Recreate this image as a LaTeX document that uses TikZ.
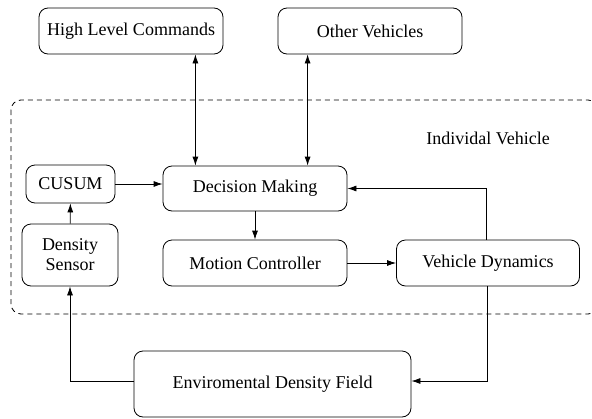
\documentclass[tikz,border=0pt]{standalone}
\usepackage{fontspec}
\newfontfamily\labelfont{Liberation Serif}
\usepackage{tikz}
\usetikzlibrary{arrows.meta}

\begin{document}
\begin{tikzpicture}[x=1pt,y=-1pt,line width=0.8pt,>={Latex[length=9pt,width=6pt]},font=\labelfont\fontsize{18}{20}\selectfont]
            \tikzstyle{block}=[draw=black,rounded corners=9pt,minimum height=46pt,inner sep=0pt,align=center]
            \useasboundingbox (0,0) rectangle (592,418);

                % the vehicle itself
                \draw[dash pattern=on 5pt off 4pt,rounded corners=10pt] (11,100) rectangle (598,314);
                \node (iv) at (488,138) {Individal Vehicle};

                \node[block,minimum width=184pt] (hlc) at (131,31) {High Level Commands};
                \node[block,minimum width=184pt] (ov) at (370,31) {Other Vehicles};

                \node[block,minimum width=89pt,minimum height=38pt] (cusum) at (70.5,184) {CUSUM};
                \node[block,minimum width=96pt,minimum height=62pt] (ds) at (70,255) {Density\\Sensor};
                \node[block,minimum width=184pt,minimum height=45pt] (dm) at (255,188.5) {Decision Making};
                \node[block,minimum width=184pt] (mc) at (255,263) {Motion Controller};
                \node[block,minimum width=183pt] (vd) at (488,263) {Vehicle Dynamics};

                \node[block,minimum width=277pt,minimum height=66pt] (env) at (272.5,384) {Enviromental Density Field};

                \draw[<->] ([xshift=-28pt]hlc.south east) -- ([xshift=-28pt]hlc.south east |- dm.north);
                \draw[<->] ([xshift=30pt]ov.south west) -- ([xshift=30pt]ov.south west |- dm.north);

                \foreach \from/\to in {ds/cusum, dm/mc, mc/vd}
                    \draw[->] (\from) -- (\to);
                \draw[->] (cusum.east) -- (cusum.east -| dm.west);
                \draw[->] ([xshift=-2pt]vd.north) |- (dm.east);
                \draw[->] ([xshift=-1pt]vd.south) |- ([yshift=3pt]env.east);
                \draw[->] ([yshift=3pt]env.west) -| (ds.south);
        \end{tikzpicture}
\end{document}
